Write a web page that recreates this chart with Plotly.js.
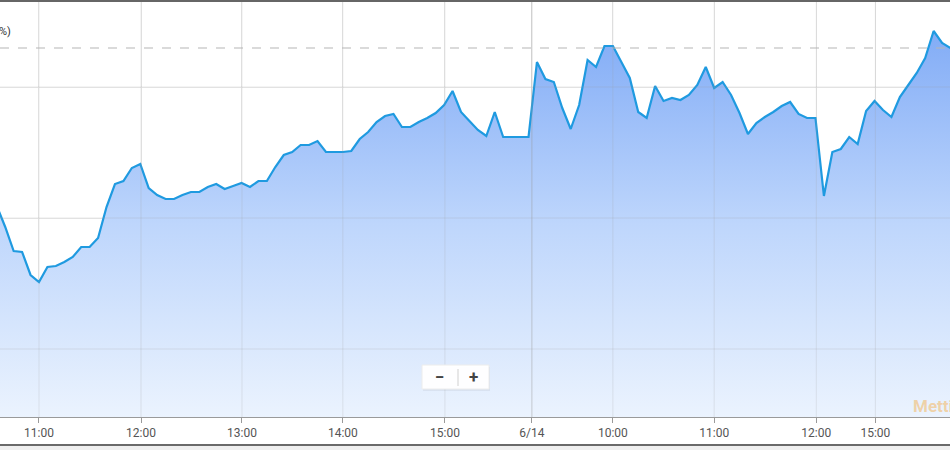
<!DOCTYPE html>
<html>
<head>
<meta charset="utf-8">
<script src="https://cdn.plot.ly/plotly-3.0.1.min.js"></script>
<style>html,body{margin:0;padding:0;background:#fff;}#chart{width:950px;height:450px;}</style>
</head>
<body>
<div id="chart"></div>
<script>
// 5-minute bar index (11:00 on day 1 = 0)
const barIndex = [];
for (let i = -5; i <= 108; i++) barIndex.push(i);

// values (arbitrary price units)
const values = [
  211, 190, 166, 165, 142, 135, 150, 151, 155, 160,
  170, 170, 179, 210, 233, 236, 249, 253, 229, 222,
  218, 218, 222, 225, 225, 230, 233, 228, 231, 234,
  230, 236, 236, 250, 262, 265, 272, 272, 276, 265,
  265, 265, 266, 278, 285, 295, 301, 303, 290, 290,
  295, 299, 304, 312, 326, 305, 296, 287, 281, 305,
  280, 280, 280, 280, 355, 338, 335, 309, 288, 312,
  357, 350, 371, 371, 355, 339, 305, 299, 331, 316,
  319, 317, 322, 332, 350, 329, 335, 322, 304, 283,
  294, 300, 305, 311, 315, 303, 299, 299, 221, 265,
  268, 280, 273, 306, 316, 307, 300, 320, 332, 344,
  359, 386, 374, 369
];

const refValue = 369;           // dashed reference (previous close)
const gridValues = [68, 199, 330];

const tickPos = [0, 12.09, 24.05, 36.0, 48.1, 58.4, 68.0, 80.0, 92.1, 99.1];
const tickText = ['11:00', '12:00', '13:00', '14:00', '15:00', '6/14', '10:00', '11:00', '12:00', '15:00'];

const W = 950, TOP = 2, BOT = 417;
const py = p => (BOT - p) / (BOT - TOP);   // pixel y -> paper y
const px = p => p / W;                       // pixel x -> paper x

const trace = {
  x: barIndex,
  y: values,
  type: 'scatter',
  mode: 'lines',
  line: {color: '#1f9ae0', width: 2.2},
  fill: 'tozeroy',
  fillgradient: {
    type: 'vertical',
    colorscale: [[0, 'rgba(235,243,254,1)'], [0.5, 'rgba(190,214,252,1)'], [1, 'rgba(130,172,246,1)']]
  },
  hoverinfo: 'skip'
};

// faint grid overlay so the grid shows through the filled area
const gridShapes = [];
tickPos.forEach(v => gridShapes.push({type: 'line', xref: 'x', yref: 'paper', x0: v, x1: v, y0: 0, y1: 1,
  line: {color: v === 58.4 ? 'rgba(150,150,150,0.45)' : 'rgba(160,160,160,0.22)', width: 1}, layer: 'above'}));
gridValues.forEach(v => gridShapes.push({type: 'line', xref: 'paper', yref: 'y', x0: 0, x1: 1, y0: v, y1: v,
  line: {color: 'rgba(160,160,160,0.22)', width: 1}, layer: 'above'}));

const layout = {
  width: 950, height: 450,
  margin: {l: 0, r: 0, t: TOP, b: 450 - BOT},
  paper_bgcolor: '#ffffff',
  plot_bgcolor: '#ffffff',
  showlegend: false,
  xaxis: {
    range: [-4.62, 107.94],
    tickvals: tickPos, ticktext: tickText,
    showgrid: true, gridcolor: '#e8e8e8', gridwidth: 1,
    zeroline: false,
    showline: true, linecolor: '#9a9a9a', linewidth: 1,
    ticks: 'outside', ticklen: 5, tickcolor: '#9a9a9a',
    tickfont: {family: 'Roboto, sans-serif', size: 12, color: '#555'},
    fixedrange: true
  },
  yaxis: {
    range: [0, BOT - TOP],
    tickvals: gridValues, showticklabels: false,
    showgrid: true, gridcolor: '#ebebeb', gridwidth: 1,
    zeroline: false, showline: false, fixedrange: true
  },
  shapes: gridShapes.concat([
    {type: 'line', xref: 'paper', yref: 'y', x0: 0, x1: 1, y0: refValue, y1: refValue, line: {color: '#b5b5b5', width: 1, dash: 'dash'}},
    {type: 'line', xref: 'paper', yref: 'paper', x0: 0, x1: 1, y0: py(1), y1: py(1), line: {color: '#666', width: 2}},
    {type: 'rect', xref: 'paper', yref: 'paper', x0: 0, x1: 1, y0: py(446), y1: py(452), line: {width: 0}, fillcolor: '#efefef'},
    {type: 'line', xref: 'paper', yref: 'paper', x0: 0, x1: 1, y0: py(445), y1: py(445), line: {color: '#6a6a6a', width: 2}},
    {type: 'rect', xref: 'paper', yref: 'paper', x0: px(423), x1: px(490), y0: py(391), y1: py(367), line: {width: 0}, fillcolor: 'rgba(0,0,0,0.05)'},
    {type: 'rect', xref: 'paper', yref: 'paper', x0: px(422), x1: px(489), y0: py(389), y1: py(365), line: {color: '#ececec', width: 1}, fillcolor: 'rgba(255,255,255,0.97)'},
    {type: 'line', xref: 'paper', yref: 'paper', x0: px(458), x1: px(458), y0: py(386), y1: py(369), line: {color: '#d0d0d0', width: 1}}
  ]),
  annotations: [
    {xref: 'paper', yref: 'paper', x: px(13), y: py(31), xanchor: 'right', yanchor: 'middle', showarrow: false, text: '(0%)', font: {family: 'Roboto, sans-serif', size: 11, color: '#333'}},
    {xref: 'paper', yref: 'paper', x: px(439), y: py(377), xanchor: 'center', yanchor: 'middle', showarrow: false, text: '<b>−</b>', font: {family: 'Roboto, sans-serif', size: 17, color: '#444'}},
    {xref: 'paper', yref: 'paper', x: px(473), y: py(377), xanchor: 'center', yanchor: 'middle', showarrow: false, text: '<b>+</b>', font: {family: 'Roboto, sans-serif', size: 17, color: '#444'}},
    {xref: 'paper', yref: 'paper', x: px(911), y: py(406), xanchor: 'left', yanchor: 'middle', showarrow: false, text: '<b>Mettis Global</b>', font: {family: 'Roboto, sans-serif', size: 17, color: 'rgba(246,170,60,0.45)'}}
  ]
};

Plotly.newPlot('chart', [trace], layout, {displayModeBar: false, staticPlot: true});
</script>
</body>
</html>
